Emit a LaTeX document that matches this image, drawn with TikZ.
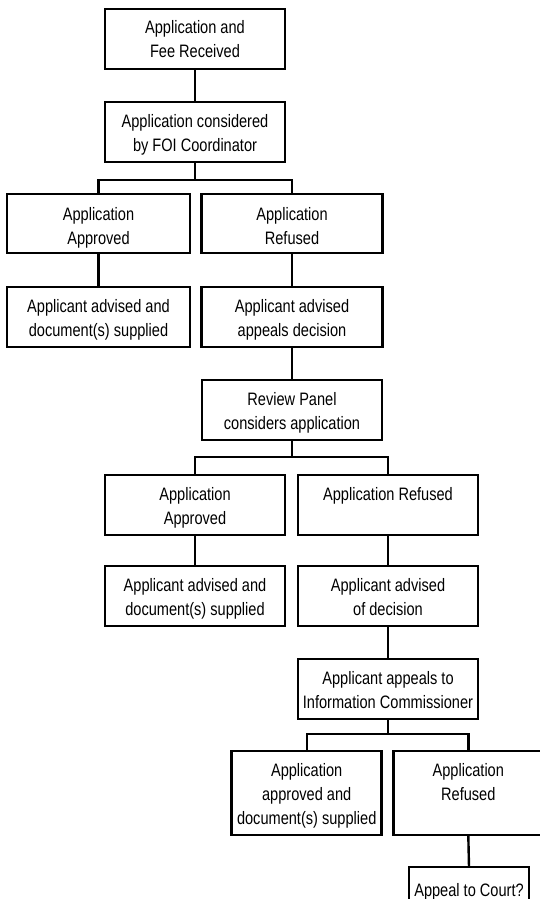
\documentclass[tikz,border=0pt]{standalone}
\usepackage{fontspec}
\setmainfont{Liberation Sans}[FakeStretch=0.81]
\begin{document}
\begin{tikzpicture}[x=1pt,y=-1pt,
  box/.style={draw=black, fill=white, line width=2.6pt, inner sep=0pt, outer sep=0pt},
  thinbox/.style={box, line width=2pt},
  conn/.style={draw=black, line width=2.4pt, line join=miter}]
\useasboundingbox (0,0) rectangle (540,899);
\clip (0,0) rectangle (540,899);
\newcommand{\bx}[4]{\parbox[c][#2pt][t]{#1pt}{\fontsize{18pt}{24pt}\selectfont\centering\rule{0pt}{#3pt}#4\par}}
% coordinates of branch points
\coordinate (j1) at (195,180);
\coordinate (j2) at (292,457);
\coordinate (j3) at (388,734);
% boxes
\node[thinbox, minimum width=180pt, minimum height=60pt] (b1) at (195,39) {\bx{180}{60}{25}{Application and\\Fee Received}};
\node[thinbox, minimum width=180pt, minimum height=60pt] (b2) at (195,132) {\bx{180}{60}{25}{Application considered\\by FOI Coordinator}};
\node[box, minimum width=183pt, minimum height=59pt] (b3) at (98.5,223.5) {\bx{183}{59}{26}{Application\\Approved}};
\node[box, minimum width=181pt, minimum height=59pt] (b4) at (292,223.5) {\bx{181}{59}{26}{Application\\Refused}};
\node[box, minimum width=183pt, minimum height=60pt] (b5) at (98.5,317) {\bx{183}{60}{25}{Applicant advised and\\document(s) supplied}};
\node[box, minimum width=181pt, minimum height=60pt] (b6) at (292,317) {\bx{181}{60}{25}{Applicant advised\\appeals decision}};
\node[thinbox, minimum width=180pt, minimum height=60pt] (b7) at (292,410) {\bx{180}{60}{25}{Review Panel\\considers application}};
\node[thinbox, minimum width=180pt, minimum height=60pt] (b8) at (195,505) {\bx{180}{60}{25}{Application\\Approved}};
\node[thinbox, minimum width=180pt, minimum height=60pt] (b9) at (388,505) {\bx{180}{60}{25}{Application Refused}};
\node[box, minimum width=180pt, minimum height=60pt] (b10) at (195,596) {\bx{180}{60}{25}{Applicant advised and\\document(s) supplied}};
\node[box, minimum width=180pt, minimum height=60pt] (b11) at (388,596) {\bx{180}{60}{25}{Applicant advised\\of decision}};
\node[box, minimum width=180pt, minimum height=60pt] (b12) at (388,689) {\bx{180}{60}{25}{Applicant appeals to\\Information Commissioner}};
\node[box, minimum width=150pt, minimum height=84pt] (b13) at (306.7,793) {\bx{150}{84}{25}{Application\\approved and\\document(s) supplied}};
\node[box, minimum width=150pt, minimum height=84pt] (b14) at (468.3,793) {\bx{150}{84}{25}{Application\\Refused}};
\node[box, minimum width=120pt, minimum height=60pt] (b15) at (469,897) {\bx{120}{60}{29}{Appeal to Court?}};
% connectors
\begin{scope}[on background layer/.try]
\end{scope}
\draw[conn] (b1.south) -- (b2.north);
\draw[conn] (b2.south) -- (j1);
\draw[conn] (b3.north) |- (j1) -| (b4.north);
\draw[conn] (b3.south) -- (b5.north);
\draw[conn] (b4.south) -- (b6.north);
\draw[conn] (b6.south) -- (b7.north);
\draw[conn] (b7.south) -- (j2);
\draw[conn] (b8.north) |- (j2) -| (b9.north);
\draw[conn] (b8.south) -- (b10.north);
\draw[conn] (b9.south) -- (b11.north);
\draw[conn] (b11.south) -- (b12.north);
\draw[conn] (b12.south) -- (j3);
\draw[conn] (b13.north) |- (j3) -| (b14.north);
\draw[conn] (b14.south) -- (b15.north);
\end{tikzpicture}
\end{document}
